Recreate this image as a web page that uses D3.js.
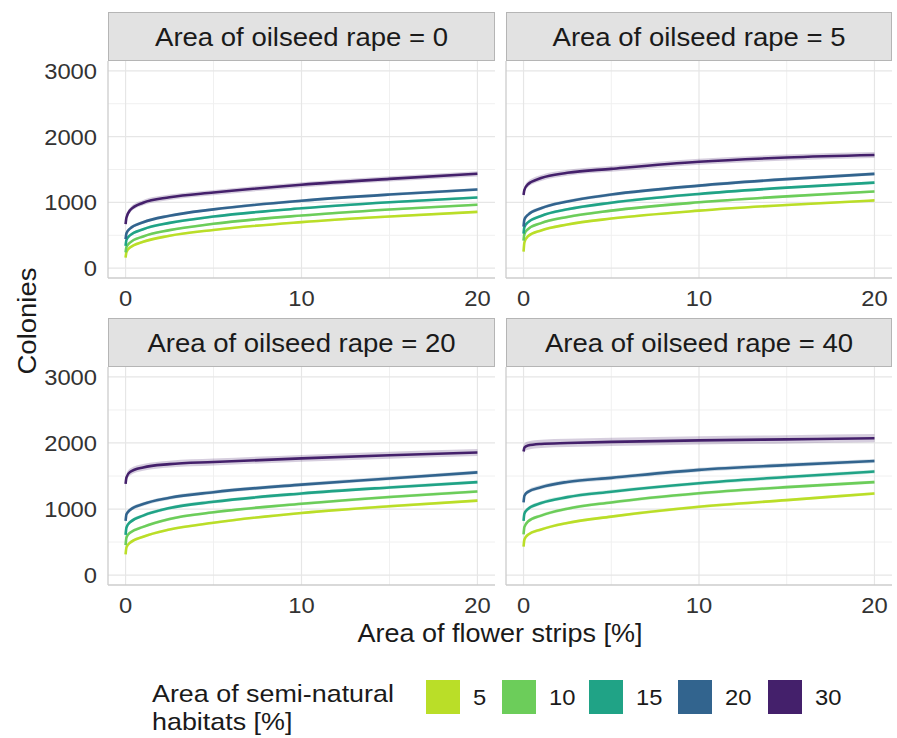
<!DOCTYPE html>
<html>
<head>
<meta charset="utf-8">
<script src="https://cdn.jsdelivr.net/npm/d3@7"></script>
<style>
  body { margin: 0; background: #ffffff; }
  text { font-family: "Liberation Sans", Arial, Helvetica, sans-serif; }
</style>
</head>
<body>
<svg id="chart" width="897" height="738"></svg>
<script>
// ---------------- data ----------------
const flowerStrips = [0, 0.05, 0.25, 1, 2.5, 5, 10, 15, 20];      // x values (% flower strips)
const habitatLevels = ["5", "10", "15", "20", "30"];              // semi-natural habitat levels
const rapeLevels = [0, 5, 20, 40];                                // oilseed rape facet levels

// Colonies per habitat level (order 5,10,15,20,30), one array per facet
const rape0 = [
  [160, 245, 313, 401, 492, 581, 700, 786, 855],
  [240, 320, 388, 482, 578, 674, 800, 892, 965],
  [340, 430, 498, 592, 688, 784, 910, 1002, 1075],
  [440, 530, 600, 697, 797, 894, 1025, 1119, 1195],
  [670, 770, 880, 995, 1078, 1150, 1268, 1357, 1435]
];
const rape5 = [
  [250, 390, 485, 573, 663, 754, 874, 961, 1030],
  [420, 520, 592, 684, 779, 875, 1001, 1092, 1165],
  [525, 625, 696, 794, 894, 995, 1128, 1224, 1301],
  [630, 740, 811, 911, 1014, 1119, 1255, 1354, 1433],
  [1113, 1190, 1275, 1370, 1450, 1510, 1618, 1682, 1720]
];
const rape20 = [
  [315, 420, 490, 580, 690, 793, 940, 1043, 1127],
  [455, 570, 640, 730, 850, 950, 1080, 1183, 1266],
  [610, 720, 800, 900, 1015, 1110, 1235, 1327, 1408],
  [820, 920, 985, 1075, 1170, 1255, 1370, 1463, 1555],
  [1380, 1480, 1560, 1630, 1680, 1712, 1767, 1815, 1855]
];
const rape40 = [
  [430, 540, 610, 690, 790, 885, 1034, 1135, 1236],
  [615, 730, 810, 900, 1005, 1100, 1238, 1332, 1408],
  [820, 930, 1000, 1090, 1180, 1262, 1390, 1484, 1567],
  [1100, 1200, 1260, 1330, 1410, 1472, 1593, 1664, 1727],
  [1870, 1930, 1960, 1985, 2000, 2017, 2040, 2055, 2072]
];
// confidence band half-widths per habitat level
const band0  = [18, 18, 20, 22, 40];
const band5  = [18, 20, 22, 25, 45];
const band20 = [20, 22, 25, 28, 52];
const band40 = [22, 25, 28, 32, 62];

const xTicks = [0, 10, 20];
const xMinor = [5, 15];
const yTicks = [0, 1000, 2000, 3000];
const yMinor = [500, 1500, 2500];

const xTitle = "Area of flower strips [%]";
const yTitle = "Colonies";
const legendTitle = ["Area of semi-natural", "habitats [%]"];

// ---------------- style / layout ----------------
const palette = ["#BADE28", "#6CCD5A", "#20A386", "#32648E", "#44206B"];
const svg = d3.select("#chart");

// text helper: horizontally widened glyphs to match reference proportions
function addText(parent, x, y, str, size, anchor, fill, sx, rot) {
  const t = parent.append("text")
    .attr("transform", `translate(${x},${y})` + (rot ? ` rotate(${rot})` : "") + ` scale(${sx || 1.08},1)`)
    .attr("x", 0).attr("y", 0).attr("dy", "0.36em")
    .attr("text-anchor", anchor).attr("font-size", size).attr("fill", fill)
    .text(str);
  return t;
}

const facets = [
  { data: rape0,  band: band0,  rape: rapeLevels[0], left: 108, right: 495, stripTop: 12,  top: 61,  bottom: 278, yLabels: true },
  { data: rape5,  band: band5,  rape: rapeLevels[1], left: 506, right: 892, stripTop: 12,  top: 61,  bottom: 278, yLabels: false },
  { data: rape20, band: band20, rape: rapeLevels[2], left: 108, right: 495, stripTop: 318, top: 367, bottom: 585, yLabels: true },
  { data: rape40, band: band40, rape: rapeLevels[3], left: 506, right: 892, stripTop: 318, top: 367, bottom: 585, yLabels: false }
];

facets.forEach(f => {
  const x = d3.scaleLinear().domain([-1, 21]).range([f.left, f.right]);
  const y = d3.scaleLinear().domain([-150, 3150]).range([f.bottom, f.top]);
  const g = svg.append("g");

  // minor grid
  g.selectAll(".gxm").data(xMinor).join("line")
    .attr("x1", d => x(d)).attr("x2", d => x(d)).attr("y1", f.top).attr("y2", f.bottom)
    .attr("stroke", "#F0F0F0").attr("stroke-width", 1);
  g.selectAll(".gym").data(yMinor).join("line")
    .attr("x1", f.left).attr("x2", f.right).attr("y1", d => y(d)).attr("y2", d => y(d))
    .attr("stroke", "#F0F0F0").attr("stroke-width", 1);
  // major grid
  g.selectAll(".gx").data(xTicks).join("line")
    .attr("x1", d => x(d)).attr("x2", d => x(d)).attr("y1", f.top).attr("y2", f.bottom)
    .attr("stroke", "#E6E6E6").attr("stroke-width", 1.2);
  g.selectAll(".gy").data(yTicks).join("line")
    .attr("x1", f.left).attr("x2", f.right).attr("y1", d => y(d)).attr("y2", d => y(d))
    .attr("stroke", "#E6E6E6").attr("stroke-width", 1.2);

  // axis lines (left & bottom)
  g.append("line").attr("x1", f.left).attr("x2", f.left).attr("y1", f.top).attr("y2", f.bottom)
    .attr("stroke", "#CDCDCD").attr("stroke-width", 1.3);
  g.append("line").attr("x1", f.left).attr("x2", f.right).attr("y1", f.bottom).attr("y2", f.bottom)
    .attr("stroke", "#CDCDCD").attr("stroke-width", 1.3);

  // strip
  g.append("rect").attr("x", f.left + 0.5).attr("y", f.stripTop + 0.5)
    .attr("width", f.right - f.left - 1).attr("height", f.top - f.stripTop - 1)
    .attr("fill", "#E2E2E2").attr("stroke", "#B5B5B5").attr("stroke-width", 1);
  addText(g, (f.left + f.right) / 2, (f.stripTop + f.top) / 2,
          "Area of oilseed rape = " + f.rape, 25.5, "middle", "#1A1A1A");

  // ribbons + lines
  const area = d3.area().curve(d3.curveMonotoneX)
    .x((d, i) => x(flowerStrips[i]));
  const line = d3.line().curve(d3.curveMonotoneX)
    .x((d, i) => x(flowerStrips[i])).y(d => y(d));

  f.data.forEach((series, k) => {
    g.append("path").datum(series)
      .attr("d", area.y0(d => y(d - f.band[k])).y1(d => y(d + f.band[k])))
      .attr("fill", palette[k]).attr("fill-opacity", 0.22).attr("stroke", "none");
  });
  f.data.forEach((series, k) => {
    g.append("path").datum(series)
      .attr("d", line)
      .attr("fill", "none").attr("stroke", palette[k]).attr("stroke-width", 2.6)
      .attr("stroke-linejoin", "round").attr("stroke-linecap", "butt");
  });

  // x tick labels
  xTicks.forEach(t => addText(g, x(t), f.bottom + 20, String(t), 22, "middle", "#333333"));
  // y tick labels
  if (f.yLabels) {
    yTicks.forEach(t => addText(g, f.left - 11, y(t), String(t), 22, "end", "#333333"));
  }
});

// axis titles
addText(svg, 500, 633, xTitle, 25, "middle", "#1A1A1A");
addText(svg, 27, 321, yTitle, 25.5, "middle", "#1A1A1A", 1.08, -90);

// legend
const legend = svg.append("g");
legendTitle.forEach((s, i) => addText(legend, 152, 693 + i * 28, s, 24, "start", "#1A1A1A", 1.12));
const keyX = [426, 502, 589, 678, 768];
legend.selectAll(".lk").data(habitatLevels).join("rect")
  .attr("x", (d, i) => keyX[i]).attr("y", 680).attr("width", 34).attr("height", 34)
  .attr("fill", (d, i) => palette[i]);
habitatLevels.forEach((s, i) => addText(legend, keyX[i] + 47, 697, s, 22, "start", "#1A1A1A"));
</script>
</body>
</html>
